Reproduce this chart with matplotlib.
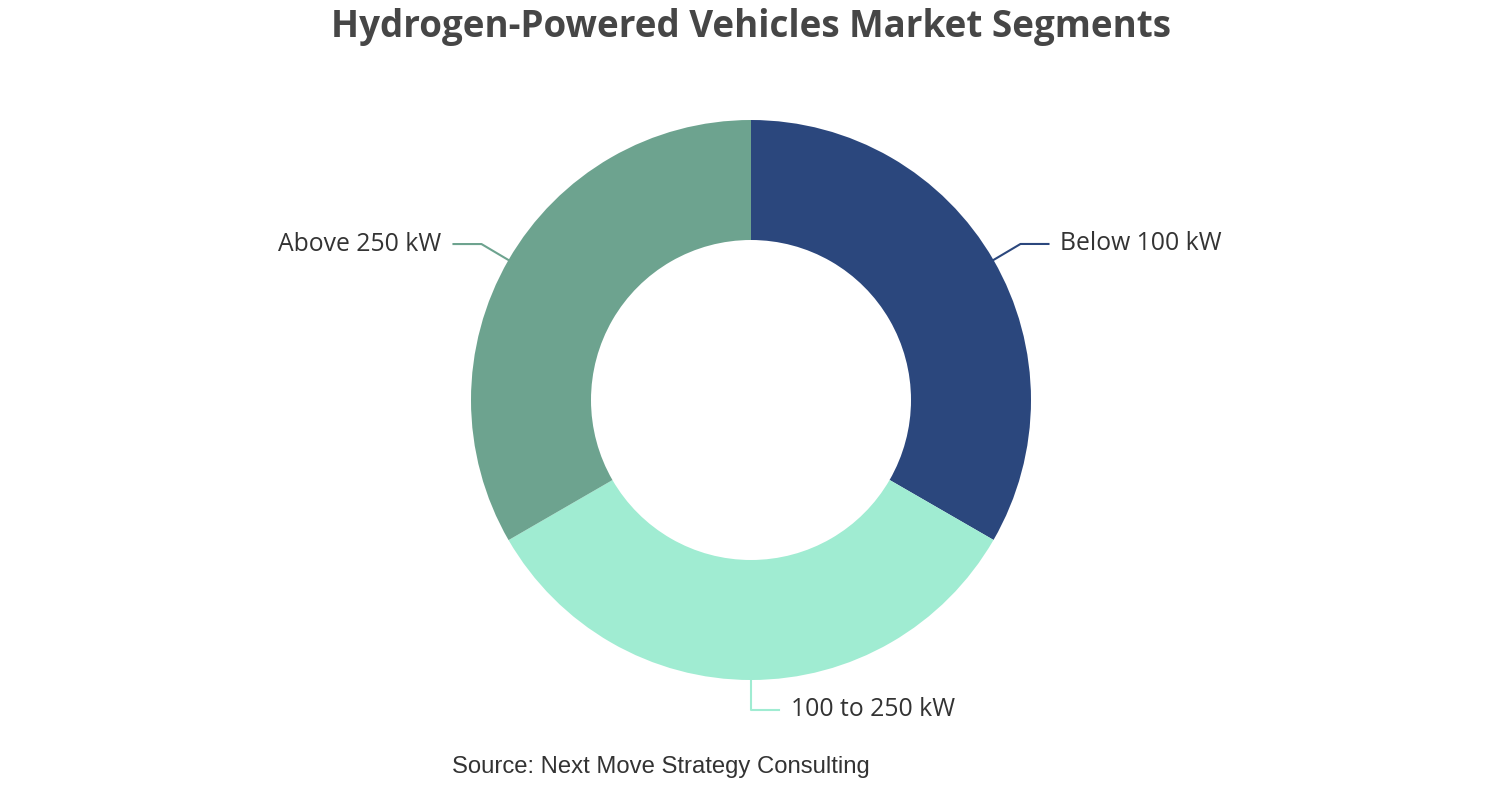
import numpy as np
import matplotlib
matplotlib.use("Agg")
import matplotlib.pyplot as plt

categories = ["Below 100 kW", "100 to 250 kW", "Above 250 kW"]
values = [33.33, 33.33, 33.34]
colors = ["#2B477D", "#A0ECD2", "#6DA38F"]

W, H = 1502, 800
fig = plt.figure(figsize=(W / 100, H / 100), dpi=100)
ax = fig.add_axes([0, 0, 1, 1])
ax.set_xlim(0, W)
ax.set_ylim(0, H)
ax.set_aspect("equal")
ax.axis("off")

cx, cy, R, ring = 751, 400, 280, 120
wedges, _ = ax.pie(values, colors=colors, startangle=90, counterclock=False,
                   radius=R, center=(cx, cy), frame=True,
                   wedgeprops=dict(width=ring, linewidth=0))
ax.set_xlim(0, W)
ax.set_ylim(0, H)
ax.axis("off")

label_font = ["Open Sans", "DejaVu Sans"]
for w, lab, col in zip(wedges, categories, colors):
    mid = np.deg2rad((w.theta1 + w.theta2) / 2)
    x0, y0 = cx + R * np.cos(mid), cy + R * np.sin(mid)
    if abs(np.cos(mid)) < 0.1:
        # bottom label
        x1, y1 = x0, y0 - 30
        x2 = x1 + 28
        ax.plot([x0, x1, x2], [y0, y1, y1], color=col, lw=1.5)
        ax.text(x2 + 12, y1, lab, ha="left", va="center", fontsize=17.8,
                color="#333333", family=label_font)
    else:
        s = np.sign(np.cos(mid))
        x1, y1 = x0 + s * 27, y0 + 16
        x2 = x1 + s * 28
        ax.plot([x0, x1, x2], [y0, y1, y1], color=col, lw=1.5)
        ax.text(x2 + s * 12, y1, lab, ha="left" if s > 0 else "right",
                va="center", fontsize=17.8, color="#333333", family=label_font)

fig.text(751 / W, 1 - 27 / H, "Hydrogen-Powered Vehicles Market Segments",
         ha="center", va="center", fontsize=26.5, fontweight="bold",
         color="#464646", family=label_font)
fig.text(660.5 / W, 1 - 767 / H, "Source: Next Move Strategy Consulting",
         ha="center", va="center", fontsize=17.2, color="#333333",
         family=["Liberation Sans", "DejaVu Sans"])

fig.savefig("out.png", dpi=100, facecolor="white")
